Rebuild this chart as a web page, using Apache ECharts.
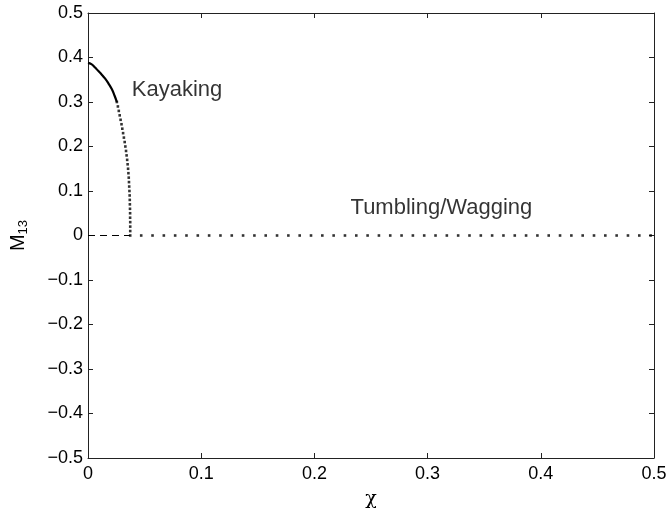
<!DOCTYPE html>
<html>
<head>
<meta charset="utf-8">
<script src="https://cdn.jsdelivr.net/npm/echarts@6/dist/echarts.min.js"></script>
<style>
  html, body { margin: 0; padding: 0; background: #fff; }
  #main { width: 670px; height: 508px; }
</style>
</head>
<body>
<div id="main"></div>
<script type="text/javascript">

// kayaking branch, upper part (looks solid: points packed tight)
var kayakSolidChi = [0, 0.003, 0.006, 0.009, 0.012, 0.015, 0.018, 0.021, 0.0235, 0.0255];
var kayakSolidM   = [0.388, 0.385, 0.378, 0.370, 0.362, 0.353, 0.342, 0.329, 0.314, 0.300];

// kayaking branch, steep part (separate dots)
var kayakDotChi = [0.0255, 0.0264, 0.0272, 0.0280, 0.0288, 0.0296, 0.0303, 0.0310, 0.0317,
                   0.0324, 0.0330, 0.0336, 0.0341, 0.0346, 0.0350, 0.0354, 0.0357, 0.0360,
                   0.0362, 0.0364, 0.0366, 0.0368, 0.0369, 0.0370, 0.0371, 0.0372, 0.0372,
                   0.0373, 0.0373, 0.0373, 0.0373];
var kayakDotM   = [0.30, 0.29, 0.28, 0.27, 0.26, 0.25, 0.24, 0.23, 0.22,
                   0.21, 0.20, 0.19, 0.18, 0.17, 0.16, 0.15, 0.14, 0.13,
                   0.12, 0.11, 0.10, 0.09, 0.08, 0.07, 0.06, 0.05, 0.04,
                   0.03, 0.02, 0.01, 0.00];

// unstable M13 = 0 branch (dashed)
var unstableChi = [0, 0.0373];
var unstableM   = [0, 0];

// tumbling/wagging branch, M13 = 0
var tumbleChi = [0.047, 0.057, 0.067, 0.077, 0.087, 0.097, 0.107, 0.117, 0.127, 0.137,
                 0.147, 0.157, 0.167, 0.177, 0.187, 0.197, 0.207, 0.217, 0.227, 0.237,
                 0.247, 0.257, 0.267, 0.277, 0.287, 0.297, 0.307, 0.317, 0.327, 0.337,
                 0.347, 0.357, 0.367, 0.377, 0.387, 0.397, 0.407, 0.417, 0.427, 0.437,
                 0.447, 0.457, 0.467, 0.477, 0.487, 0.497];
var tumbleM = tumbleChi.map(function () { return 0; });

// text labels placed in data coordinates
var noteText = ['Kayaking', 'Tumbling/Wagging'];
var noteChi  = [0.0387, 0.2319];
var noteM    = [0.326, 0.063];

var xTicks = [0, 0.1, 0.2, 0.3, 0.4, 0.5];
var yMin = -0.5, yMax = 0.5, yStep = 0.1;

function pairs(xs, ys) {
    var out = [];
    for (var i = 0; i < xs.length; i++) out.push([xs[i], ys[i]]);
    return out;
}

function tickLabel(v) {
    var r = Math.round(v * 10) / 10;
    if (r < 0) return '\u2212' + String(-r);
    return String(r);
}

var font = 'Liberation Sans, Arial, Helvetica, sans-serif';
var axisColor = '#222';

function axisBase(pos, showLabel) {
    return {
        type: 'value',
        position: pos,
        axisLine: { show: true, onZero: false, lineStyle: { color: axisColor, width: 1 } },
        axisTick: { show: true, inside: true, length: 5, lineStyle: { color: axisColor } },
        splitLine: { show: false },
        axisLabel: {
            show: showLabel,
            color: '#000',
            fontFamily: font,
            fontSize: 18,
            formatter: tickLabel
        }
    };
}

var xBottom = axisBase('bottom', true);
xBottom.min = xTicks[0]; xBottom.max = xTicks[xTicks.length - 1]; xBottom.interval = 0.1;
xBottom.axisLabel.margin = 7;
xBottom.name = '\u03c7';
xBottom.nameLocation = 'middle';
xBottom.nameGap = 32;
xBottom.nameTextStyle = { color: '#000', fontFamily: 'DejaVu Serif, serif', fontSize: 19 };

var xTop = axisBase('top', false);
xTop.min = xTicks[0]; xTop.max = xTicks[xTicks.length - 1]; xTop.interval = 0.1;

var yLeft = axisBase('left', true);
yLeft.min = yMin; yLeft.max = yMax; yLeft.interval = yStep;
yLeft.axisLabel.margin = 5;
yLeft.name = '{m|M}{s|13}';
yLeft.nameLocation = 'middle';
yLeft.nameGap = 58;
yLeft.nameTextStyle = {
    color: '#000',
    rich: {
        m: { fontFamily: font, fontSize: 20, color: '#000', lineHeight: 24 },
        s: { fontFamily: font, fontSize: 13, color: '#000', lineHeight: 24, verticalAlign: 'bottom', padding: [8, 0, 0, 0] }
    }
};

var yRight = axisBase('right', false);
yRight.min = yMin; yRight.max = yMax; yRight.interval = yStep;

var chart = echarts.init(document.getElementById('main'), null, { renderer: 'canvas' });

var option = {
    backgroundColor: '#fff',
    animation: false,
    grid: { left: 88, right: 16, top: 13, bottom: 50, containLabel: false, outerBoundsMode: 'none' },
    xAxis: [xBottom, xTop],
    yAxis: [yLeft, yRight],
    series: [
        {
            name: 'kayaking',
            type: 'line',
            data: pairs(kayakSolidChi, kayakSolidM),
            showSymbol: false,
            smooth: true,
            lineStyle: { color: '#000', width: 2.2 }
        },
        {
            name: 'kayaking dots',
            type: 'scatter',
            data: pairs(kayakDotChi, kayakDotM),
            symbol: 'rect',
            symbolSize: 2.6,
            itemStyle: { color: '#000' }
        },
        {
            name: 'unstable',
            type: 'line',
            data: pairs(unstableChi, unstableM),
            showSymbol: false,
            lineStyle: { color: '#000', width: 1, type: [7, 5] }
        },
        {
            name: 'tumbling',
            type: 'scatter',
            data: pairs(tumbleChi, tumbleM),
            symbol: 'rect',
            symbolSize: 2.6,
            itemStyle: { color: '#000' }
        },
        {
            name: 'notes',
            type: 'scatter',
            symbolSize: 0,
            silent: true,
            data: noteText.map(function (t, i) {
                return { value: [noteChi[i], noteM[i]], name: t };
            }),
            label: {
                show: true,
                position: [0, 0],
                align: 'left',
                verticalAlign: 'middle',
                formatter: '{b}',
                color: '#000',
                fontFamily: font,
                fontSize: 22
            }
        }
    ]
};
chart.setOption(option);
</script>
</body>
</html>
